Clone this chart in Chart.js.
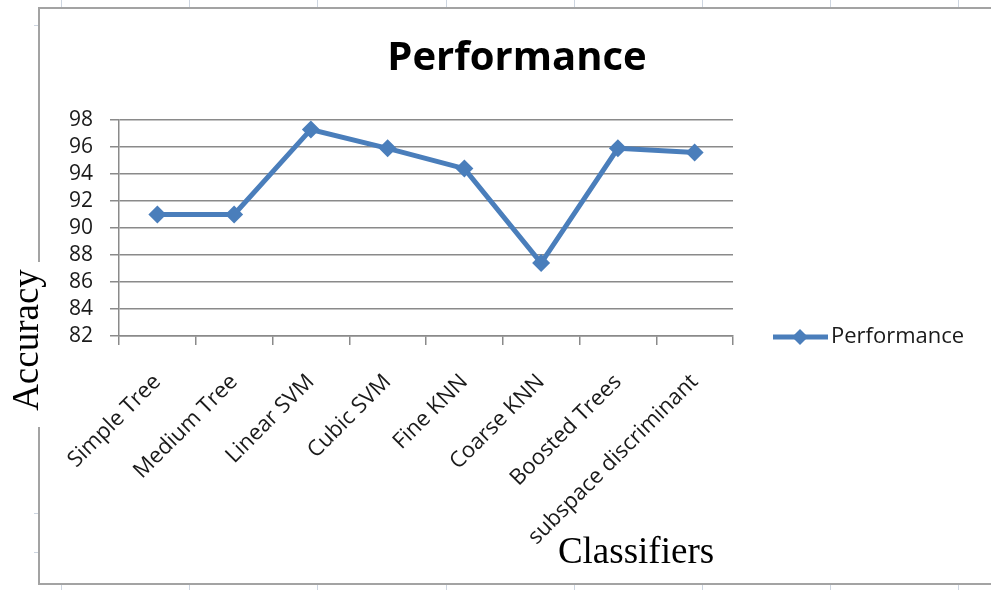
<!DOCTYPE html>
<html>
<head>
<meta charset="utf-8">
<script src="https://cdn.jsdelivr.net/npm/chart.js@4"></script>
<style>
  html, body { margin: 0; padding: 0; background: #fff; }
  #wrap { width: 991px; height: 590px; position: relative; }
</style>
</head>
<body>
<div id="wrap"><canvas id="myChart"></canvas></div>
<script>
const classifiers = ['Simple Tree', 'Medium Tree', 'Linear SVM', 'Cubic SVM',
  'Fine KNN', 'Coarse KNN', 'Boosted Trees', 'subspace discriminant'];
const accuracy = [91, 91, 97.3, 95.9, 94.4, 87.4, 95.9, 95.6];
const yTicks = [82, 84, 86, 88, 90, 92, 94, 96, 98];

const blue = '#4a7ebb';
const gridGray = '#8a8a8a';

// frame, titles and legend are painted around the chart by hand
const decorations = {
  id: 'decorations',
  beforeDraw(chart) {
    const c = chart.ctx;
    c.save();
    // faint sheet ticks outside the frame
    c.strokeStyle = '#cdd5e0';
    c.lineWidth = 1;
    for (let x = 61; x < 991; x += 128.2) {
      c.beginPath(); c.moveTo(Math.round(x) + 0.5, 0); c.lineTo(Math.round(x) + 0.5, 7); c.stroke();
      c.beginPath(); c.moveTo(Math.round(x) + 0.5, 585); c.lineTo(Math.round(x) + 0.5, 590); c.stroke();
    }
    [25, 513, 552].forEach(y => {
      c.beginPath(); c.moveTo(34, y + 0.5); c.lineTo(38, y + 0.5); c.stroke();
    });
    // frame
    c.strokeStyle = '#a3a3a3';
    c.lineWidth = 2;
    c.beginPath();
    c.moveTo(39, 262); c.lineTo(39, 8); c.lineTo(992, 8);
    c.moveTo(39, 427); c.lineTo(39, 584); c.lineTo(992, 584);
    c.stroke();
    c.restore();
  },
  afterDraw(chart) {
    const c = chart.ctx;
    c.save();
    // chart title
    c.fillStyle = '#000';
    c.font = 'bold 40px "Open Sans"';
    c.textAlign = 'center';
    c.textBaseline = 'middle';
    c.fillText('Performance', 517, 59);
    // axis titles
    c.font = '37px "Liberation Serif"';
    c.fillText('Classifiers', 636, 553);
    c.translate(28, 340);
    c.rotate(-Math.PI / 2);
    c.fillText('Accuracy', 0, 0);
    c.restore();

    // legend entry
    const ds = chart.data.datasets[0];
    c.save();
    c.strokeStyle = ds.borderColor;
    c.lineWidth = ds.borderWidth;
    c.beginPath(); c.moveTo(773, 337); c.lineTo(828, 337); c.stroke();
    c.fillStyle = ds.pointBackgroundColor;
    c.beginPath();
    c.moveTo(800, 329); c.lineTo(808, 337); c.lineTo(800, 345); c.lineTo(792, 337);
    c.closePath(); c.fill();
    c.fillStyle = '#1a1a1a';
    c.font = '22px "Open Sans"';
    c.textAlign = 'left';
    c.textBaseline = 'middle';
    c.fillText(ds.label, 831, 337);
    c.restore();
  }
};

const ctx = document.getElementById('myChart');

new Chart(ctx, {
  type: 'line',
  data: {
    labels: classifiers,
    datasets: [{
      label: 'Performance',
      data: accuracy,
      borderColor: blue,
      borderWidth: 5,
      pointStyle: 'rectRot',
      pointRadius: 9,
      pointBorderWidth: 0,
      pointBackgroundColor: blue,
      tension: 0
    }]
  },
  options: {
    responsive: true,
    maintainAspectRatio: false,
    animation: false,
    layout: { padding: { left: 38, right: 258, top: 120, bottom: 0 } },
    plugins: {
      legend: { display: false },
      title: { display: false },
      tooltip: { enabled: false }
    },
    scales: {
      x: {
        offset: true,
        grid: {
          offset: true,
          drawOnChartArea: false,
          drawTicks: true,
          tickLength: 9,
          color: gridGray,
          lineWidth: 1.5
        },
        border: { display: true, color: gridGray, width: 1.5 },
        ticks: {
          autoSkip: false,
          minRotation: 45,
          maxRotation: 45,
          padding: 24,
          color: '#1a1a1a',
          font: { family: 'Open Sans', size: 22 }
        },
        afterFit(scale) { scale.height = 254; }
      },
      y: {
        min: 82,
        max: 98,
        afterBuildTicks(scale) { scale.ticks = yTicks.map(v => ({ value: v })); },
        grid: {
          color: gridGray,
          lineWidth: 1.5,
          tickLength: 9
        },
        border: { display: true, color: gridGray, width: 1.5 },
        ticks: {
          autoSkip: false,
          padding: 17,
          color: '#1a1a1a',
          font: { family: 'Open Sans', size: 21 }
        },
        afterFit(scale) { scale.width = 81; }
      }
    }
  },
  plugins: [decorations]
});
</script>
</body>
</html>
